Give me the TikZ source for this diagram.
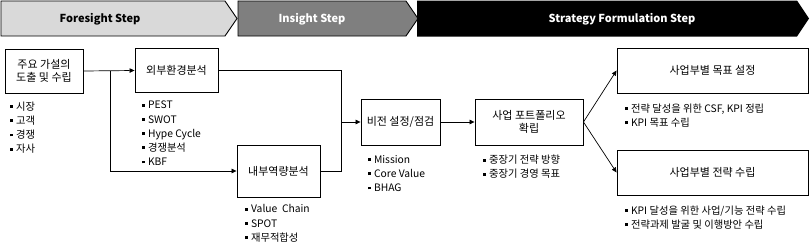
\documentclass[tikz,border=0pt]{standalone}
\usepackage{fontspec}
\setmainfont{Noto Sans CJK KR}
\usetikzlibrary{arrows.meta,positioning}
\definecolor{foregray}{HTML}{D9D9D9}
\definecolor{insgray}{HTML}{7F7F7F}
\tikzset{
  stepbox/.style={draw, line width=0.9pt, align=center, inner sep=2pt,
    font=\fontsize{11}{13.5}\selectfont},
  bullets/.style={align=left, inner sep=0pt,
    font=\fontsize{10.3}{14.2}\selectfont},
  banner/.style={line width=0.9pt},
  bannertext/.style={font=\fontsize{11}{13}\selectfont\bfseries},
  arr/.style={-{Triangle[length=5pt,width=4.5pt]}, line width=0.7pt},
  link/.style={line width=0.7pt},
}
\newcommand{\bul}{\rule[2.2pt]{2.8pt}{2.8pt}\hspace{3.5pt}}

\begin{document}
\begin{tikzpicture}[x=1pt,y=-1pt]
  \useasboundingbox (0,0) rectangle (812,249);

  % step banners
  \draw[banner, fill=foregray] (1,1) -- (225,1) -- (237,18.5) -- (225,36) -- (1,36) -- cycle;
  \draw[banner, fill=insgray] (238,1) -- (406,1) -- (418,18.5) -- (406,36) -- (238,36) -- cycle;
  \fill[black] (417,0.5) -- (797,0.5) -- (809,18.5) -- (797,36.5) -- (417,36.5) -- cycle;
  \node[bannertext] (foretxt) at (100,19) {Foresight Step};
  \node[bannertext, text=white] (instxt) at (312,19) {Insight Step};
  \node[bannertext, text=white] (strattxt) at (622,19) {Strategy Formulation Step};

  % boxes
  \node[stepbox, minimum width=78pt, minimum height=44pt] (hyp) at (44,71)
    {주요 가설의\\도출 및 수립};
  \node[stepbox, minimum width=83pt, minimum height=44pt] (ext) at (176.5,70.5)
    {외부환경분석};
  \node[stepbox, minimum width=83pt, minimum height=52pt] (intl) at (278.5,171)
    {내부역량분석};
  \node[stepbox, minimum width=79pt, minimum height=46pt] (vis) at (400.5,122)
    {비전 설정/점검};
  \node[stepbox, minimum width=108pt, minimum height=46pt] (port) at (529,122)
    {사업 포트폴리오\\확립};
  \node[stepbox, minimum width=191pt, minimum height=45pt] (goal) at (712.5,70.5)
    {사업부별 목표 설정};
  \node[stepbox, minimum width=191pt, minimum height=45pt] (strat) at (712.5,172.5)
    {사업부별 전략 수립};

  % bullet lists
  \node[bullets, below right=8pt and 5pt of hyp.south west] (hypnotes)
    {\bul 시장\\\bul 고객\\\bul 경쟁\\\bul 자사};
  \node[bullets, below right=8pt and 7pt of ext.south west] (extnotes)
    {\bul PEST\\\bul SWOT\\\bul Hype Cycle\\\bul 경쟁분석\\\bul KBF};
  \node[bullets, below right=7pt and 8pt of intl.south west] (intlnotes)
    {\bul Value~~Chain\\\bul SPOT\\\bul 재무적합성};
  \node[bullets, below right=9.5pt and 7pt of vis.south west] (visnotes)
    {\bul Mission\\\bul Core Value\\\bul BHAG};
  \node[bullets, below right=9.5pt and 8pt of port.south west] (portnotes)
    {\bul 중장기 전략 방향\\\bul 중장기 경영 목표};
  \node[bullets, below right=10pt and 8pt of goal.south west] (goalnotes)
    {\bul 전략 달성을 위한 CSF, KPI 정립\\\bul KPI 목표 수립};
  \node[bullets, below right=10pt and 8pt of strat.south west] (stratnotes)
    {\bul KPI 달성을 위한 사업/기능 전략 수립\\\bul 전략과제 발굴 및 이행방안 수립};

  % connectors
  \coordinate (split) at (110,71);
  \coordinate (merge) at (341,122);
  \draw[arr] (hyp.east) -- (ext.west);
  \draw[arr] (split) |- (intl.west);
  \draw[link] (ext.east) -| (merge);
  \draw[link] (intl.east) -| (merge);
  \draw[arr] (merge) -- (vis.west);
  \draw[arr] (vis) -- (port);
  \draw[arr] (port.east) -- (goal.west);
  \draw[arr] (port.east) -- (strat.west);
\end{tikzpicture}
\end{document}
